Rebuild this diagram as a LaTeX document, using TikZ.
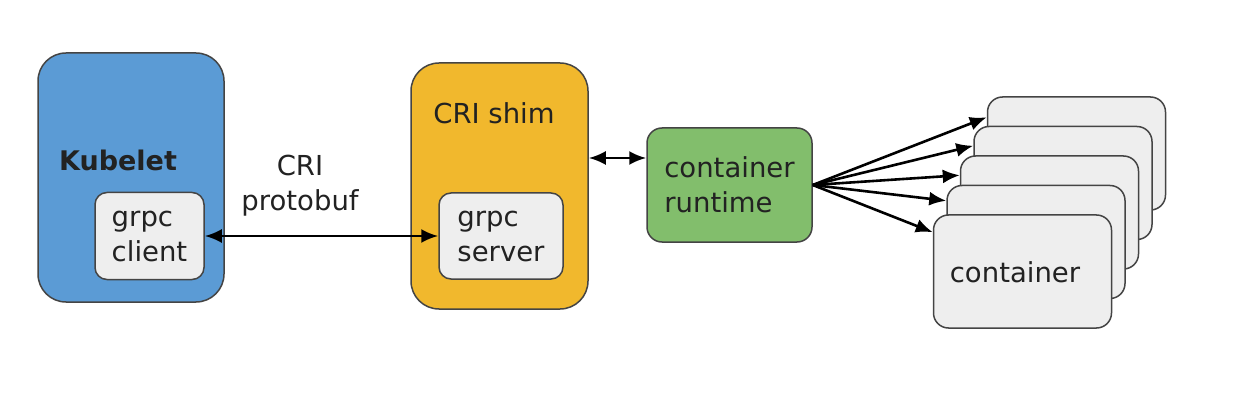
\documentclass[tikz,border=0pt]{standalone}
\usepackage{fontspec}
\setmainfont{DejaVu Sans}
\usetikzlibrary{arrows.meta,calc}
\definecolor{kblue}{HTML}{5B9BD5}
\definecolor{kyellow}{HTML}{F1B82D}
\definecolor{kgreen}{HTML}{82BE6C}
\definecolor{kgray}{HTML}{EEEEEE}
\definecolor{kline}{HTML}{444444}
\definecolor{ktext}{HTML}{222222}
\begin{document}
\begin{tikzpicture}[x=1pt,y=-1pt,
  box/.style={draw=kline, line width=1.5pt, inner sep=0pt, text=ktext},
  txt/.style={text=ktext, font=\fontsize{27.5}{35}\selectfont, inner sep=0pt},
  conn/.style={line width=2.6pt, black},
  tip/.style={{Latex[length=17pt,width=14pt]}-{Latex[length=17pt,width=14pt]}},
  otip/.style={-{Latex[length=17pt,width=14pt]}}
]
\useasboundingbox (0,0) rectangle (1234,414);
% Kubelet
\node[box, fill=kblue, rounded corners=28pt, minimum width=186pt, minimum height=249pt] (kub) at (131,177.5) {};
\node[txt, font=\fontsize{27}{34}\selectfont\bfseries] (kubt) at (118,160) {Kubelet};
\node[box, fill=kgray, rounded corners=12pt, minimum width=109pt, minimum height=87pt, txt, align=left] (gc) at (149.5,236) {grpc\\client};
% label
\node[txt, align=center] (proto) at (300,186) {CRI\\protobuf};
% CRI shim
\node[box, fill=kyellow, rounded corners=28pt, minimum width=177pt, minimum height=246pt] (shim) at (499.5,186) {};
\node[txt] (shimt) at (494,113) {CRI shim};
\node[box, fill=kgray, rounded corners=12pt, minimum width=124pt, minimum height=86pt, txt, align=left] (gs) at (501,236) {grpc\\server};
% runtime
\node[box, fill=kgreen, rounded corners=15pt, minimum width=165pt, minimum height=114pt, txt, align=left] (rt) at (729.5,185) {container\\runtime};
% containers
\foreach \k in {4,3,2,1,0}{
  \node[box, fill=kgray, rounded corners=15pt, minimum width=178pt, minimum height=113pt] (c\k) at ({1022.5+13.5*\k},{271.5-29.5*\k}) {};
}
\node[txt] (ct) at (1015,272) {container};
% connectors
\draw[conn, tip] (gc.east) -- (gs.west);
\draw[conn, tip] ([yshift=28pt]shim.east) -- ([yshift=27pt]rt.west);
\foreach \k/\d in {4/21,3/20,2/20,1/16,0/18}{
  \draw[conn, otip] (rt.east) -- ([yshift=-\d pt]c\k.north west);
}
\end{tikzpicture}
\end{document}
